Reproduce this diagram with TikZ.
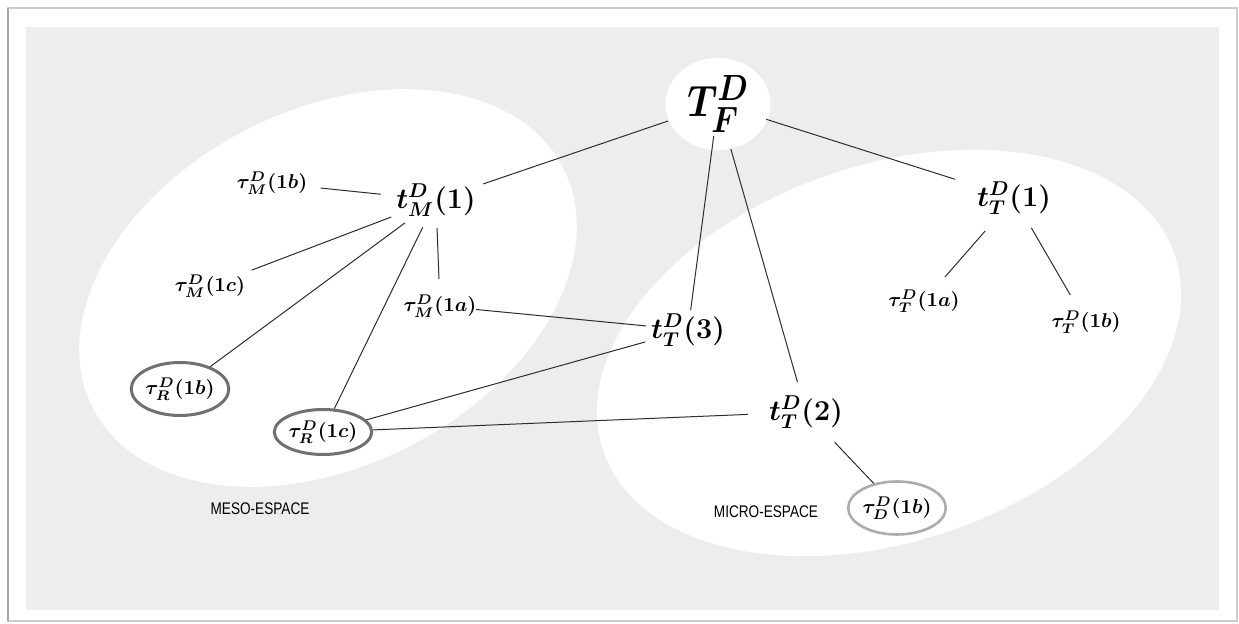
\documentclass[tikz,border=0pt]{standalone}
\usepackage{amsmath}
\usepackage{bm}
\usepackage{fontspec}
\usetikzlibrary{shapes.geometric}
\newfontfamily\labelsans{Liberation Sans}
\definecolor{panel}{RGB}{237,237,237}
\definecolor{framegray}{RGB}{205,205,205}
\definecolor{ringdark}{RGB}{112,112,112}
\definecolor{ringlight}{RGB}{172,172,172}
\definecolor{linegray}{RGB}{45,45,45}
\tikzset{
  big/.style={font=\fontsize{24.88}{28}\selectfont, inner sep=0pt},
  tn/.style={font=\fontsize{14.4}{16}\selectfont, inner sep=0pt},
  sn/.style={font=\fontsize{10}{12}\selectfont, inner sep=0pt},
  ringdk/.style={sn, ellipse, draw=ringdark, line width=1.5pt, fill=white},
  ringlt/.style={sn, ellipse, draw=ringlight, line width=1.3pt, fill=white},
  spacelabel/.style={font=\labelsans\fontsize{8.4}{10}\selectfont, inner sep=0pt},
  edge/.style={draw=linegray, line width=0.5pt},
}
\begin{document}
\begin{tikzpicture}[x=0.5pt, y=-0.5pt]
\useasboundingbox (0,0) rectangle (1239,624);
\fill[white] (0,0) rectangle (1239,624);
% frame
\draw[framegray, line width=0.6pt] (8,8) rectangle (1237,621);
\draw[black!35, line width=1pt] (8,8) -- (8,621);
% panel
\fill[panel] (26,27) rectangle (1219,610);
% space ellipses
\fill[white, rotate around={27:(328,288)}] (328,288) ellipse [x radius=264, y radius=178];
\fill[white, rotate around={19:(889,353)}] (889,353) ellipse [x radius=302, y radius=188];
% nodes
\node[big, ellipse, fill=white, minimum width=52.5pt, minimum height=46pt] (TF) at (718,104) {\scalebox{0.76}[0.88]{$\bm{T^{D}_{F}}$}};
\node[tn] (tM1) at (436,200) {$\bm{t^{D}_{M}(1)}$};
\node[tn] (tT1) at (1014,198) {$\bm{t^{D}_{T}(1)}$};
\node[tn] (tT3) at (688,330) {$\bm{t^{D}_{T}(3)}$};
\node[tn] (tT2) at (806,412) {$\bm{t^{D}_{T}(2)}$};
\node[sn] (uM1b) at (272,183) {$\bm{\tau^{D}_{M}(1b)}$};
\node[sn] (uM1c) at (210,286) {$\bm{\tau^{D}_{M}(1c)}$};
\node[sn] (uM1a) at (440,306) {$\bm{\tau^{D}_{M}(1a)}$};
\node[sn] (uT1a) at (924,301) {$\bm{\tau^{D}_{T}(1a)}$};
\node[sn] (uT1b) at (1086,322) {$\bm{\tau^{D}_{T}(1b)}$};
\node[ringdk, minimum width=44pt, minimum height=26.5pt] (uR1b) at (180,389) {$\bm{\tau^{D}_{R}(1b)}$};
\node[ringdk, minimum width=42pt, minimum height=22.5pt] (uR1c) at (323,432) {$\bm{\tau^{D}_{R}(1c)}$};
\node[ringlt, minimum width=48.5pt, minimum height=26.5pt] (uD1b) at (897,508) {$\bm{\tau^{D}_{D}(1b)}$};
\node[spacelabel] (meso) at (260,509) {\scalebox{0.81}[1]{MESO-ESPACE}};
\node[spacelabel] (micro) at (766,512) {\scalebox{0.81}[1]{MICRO-ESPACE}};
% edges
\draw[edge, shorten <=26.4pt, shorten >=25pt] (TF.center) -- (tM1.center);
\draw[edge, shorten <=25.3pt, shorten >=30.9pt] (TF.center) -- (tT1.center);
\draw[edge, shorten <=16.2pt, shorten >=10pt] (TF.center) -- (tT3.center);
\draw[edge, shorten <=23.4pt, shorten >=15.5pt] (TF.center) -- (tT2.center);
\draw[edge, shorten <=24.5pt, shorten >=27.8pt] (uM1b.center) -- (tM1.center);
\draw[edge, shorten <=23.9pt, shorten >=22.3pt] (tM1.center) -- (uM1c.center);
\draw[edge, shorten <=19.3pt] (tM1.center) -- (uR1b);
\draw[edge, shorten <=15.2pt] (tM1.center) -- (uR1c);
\draw[edge, shorten <=14.1pt, shorten >=13.5pt] (tM1.center) -- (uM1a.center);
\draw[edge, shorten <=18.1pt, shorten >=21pt] (uM1a.center) -- (tT3.center);
\draw[edge, shorten >=22.2pt] (uR1c) -- (tT3.center);
\draw[edge, shorten >=29pt] (uR1c) -- (tT2.center);
\draw[edge, shorten <=20.9pt] (tT2.center) -- (uD1b);
\draw[edge, shorten <=21.9pt, shorten >=16pt] (tT1.center) -- (uT1a.center);
\draw[edge, shorten <=17.3pt, shorten >=15.6pt] (tT1.center) -- (uT1b.center);
\end{tikzpicture}
\end{document}
